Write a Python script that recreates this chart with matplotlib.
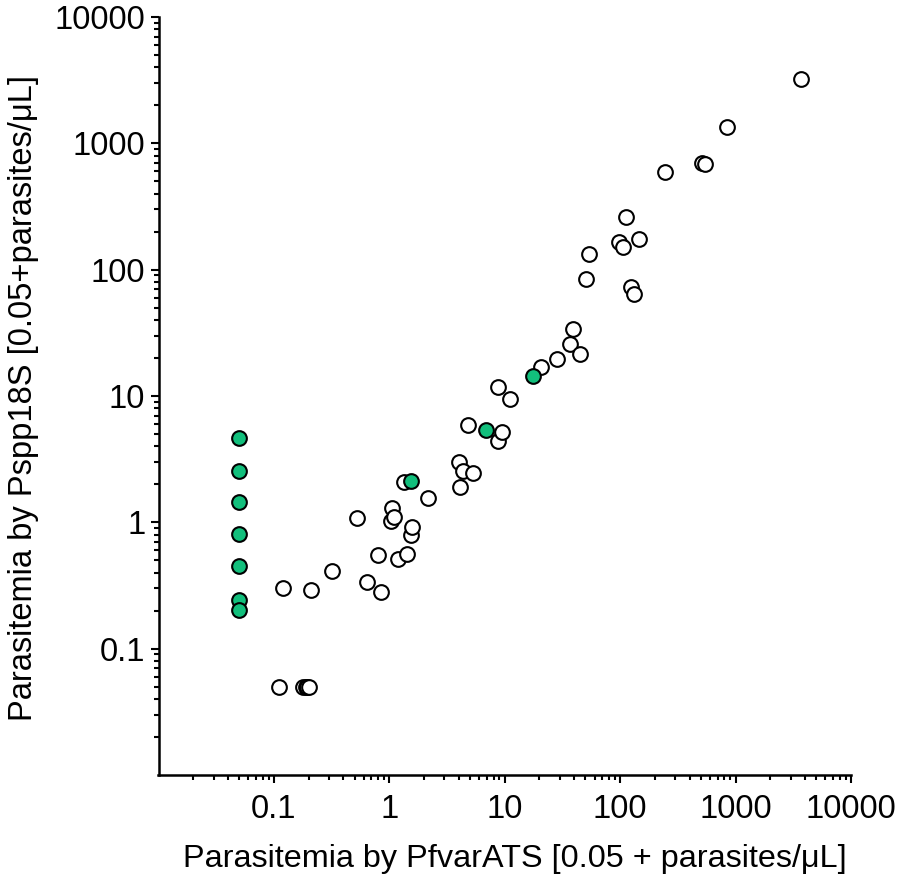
import matplotlib
matplotlib.use("Agg")
import matplotlib.pyplot as plt
from matplotlib.ticker import LogLocator, NullFormatter, FixedLocator, FixedFormatter

plt.rcParams['font.family'] = ['Liberation Sans', 'DejaVu Sans']

# Open circles (PfvarATS > cutoff)
open_x = [0.11, 0.18, 0.19, 0.195, 0.20, 0.119, 0.21, 0.32, 0.52, 0.64, 0.79, 0.84,
          1.03, 1.06, 1.10, 1.18, 1.34, 1.42, 1.53, 1.56, 2.18, 4.02, 4.10, 4.37,
          4.84, 5.35, 8.7, 8.8, 9.5, 11.2, 20.5, 28.2, 36.8, 38.8, 45, 50.3, 54,
          97.7, 105, 112, 124, 133, 147, 245, 515, 544, 849, 3700]
open_y = [0.05, 0.05, 0.05, 0.05, 0.05, 0.30, 0.29, 0.41, 1.08, 0.34, 0.55, 0.28,
          1.03, 1.31, 1.10, 0.51, 2.08, 0.56, 0.80, 0.92, 1.57, 3.01, 1.89, 2.57,
          5.92, 2.45, 4.40, 11.8, 5.18, 9.5, 16.9, 19.7, 26.0, 34.0, 21.6, 85, 133,
          165, 151, 263, 72.7, 64.4, 175, 597, 703, 684, 1340, 3230]

# Filled green circles
green_x = [0.05, 0.05, 0.05, 0.05, 0.05, 0.05, 0.05, 1.54, 6.9, 17.6]
green_y = [4.64, 2.53, 1.46, 0.81, 0.45, 0.244, 0.204, 2.13, 5.4, 14.4]

major_ticks = [0.1, 1, 10, 100, 1000, 10000]
major_labels = ['0.1', '1', '10', '100', '1000', '10000']

fig = plt.figure(figsize=(8.98, 8.82), dpi=100)
ax = fig.add_axes([158.5/898, 1-775/882, (851-158.5)/898, (775-17)/882])

ax.scatter(open_x, open_y, s=112, facecolor='white', edgecolor='black', linewidth=1.5, zorder=3)
ax.scatter(green_x, green_y, s=112, facecolor='#12bf7c', edgecolor='black', linewidth=1.5, zorder=4)

ax.set_xscale('log')
ax.set_yscale('log')
ax.set_xlim(0.01, 10000)
ax.set_ylim(0.01, 10000)

for a in (ax.xaxis, ax.yaxis):
    a.set_major_locator(FixedLocator(major_ticks))
    a.set_major_formatter(FixedFormatter(major_labels))
    a.set_minor_locator(LogLocator(base=10, subs=range(2, 10), numticks=20))
    a.set_minor_formatter(NullFormatter())

ax.tick_params(which='major', length=5.5, width=1.5, labelsize=23.5, direction='out', pad=4)
ax.tick_params(which='minor', length=3.5, width=1.5, direction='out')
ax.tick_params(axis='x', which='major', pad=8)

for side in ('top', 'right'):
    ax.spines[side].set_visible(False)
for side in ('left', 'bottom'):
    ax.spines[side].set_linewidth(1.8)

ax.set_xlabel('Parasitemia by PfvarATS [0.05 + parasites/μL]', fontsize=23.3)
ax.set_ylabel('Parasitemia by Pspp18S [0.05+parasites/μL]', fontsize=23.5)
ax.xaxis.set_label_coords(0.515, -0.091)
ax.yaxis.set_label_coords(-0.172, 0.497)

fig.savefig('out.png', dpi=100)
